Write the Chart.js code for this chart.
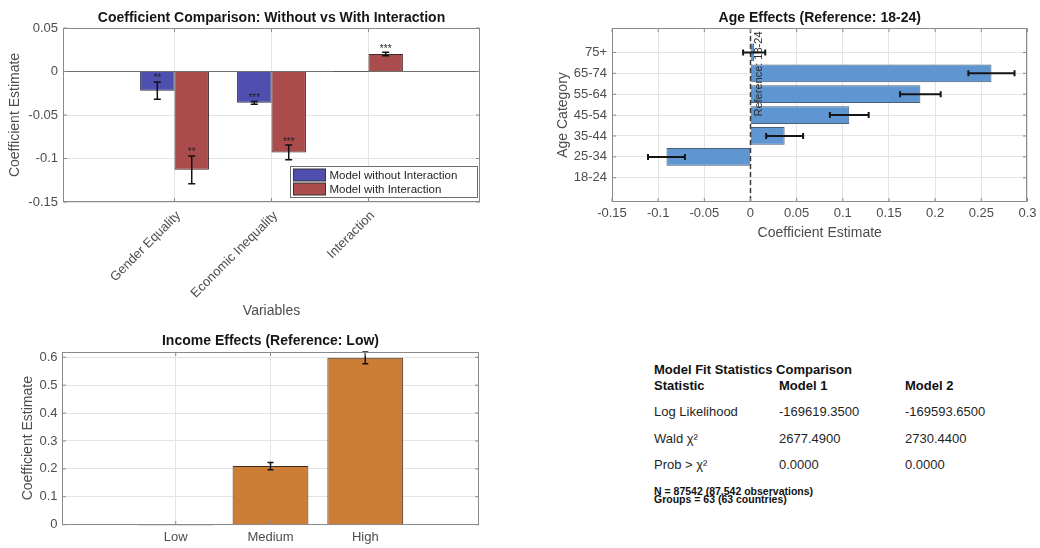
<!DOCTYPE html>
<html>
<head>
<meta charset="utf-8">
<title>Regression results</title>
<script src="https://cdn.jsdelivr.net/npm/chart.js@4.4.1/dist/chart.umd.min.js"></script>
<style>
  html, body { margin: 0; padding: 0; background: #ffffff; }
  #page { position: relative; width: 1040px; height: 548px; overflow: hidden; background: #ffffff;
          font-family: "Liberation Sans", Arial, Helvetica, sans-serif; }
  canvas { position: absolute; }
  .fit { position: absolute; white-space: nowrap; color: #1f1f1f; font-size: 13px; line-height: 16px; }
  .fit.b { font-weight: bold; color: #111; }
  .note { position: absolute; white-space: nowrap; font-weight: bold; color: #111; font-size: 10.5px; line-height: 8px; }
</style>
</head>
<body>
<div id="page">
  <canvas id="coefChart" width="520" height="325" style="left:0;top:0"></canvas>
  <canvas id="ageChart" width="500" height="250" style="left:540px;top:0"></canvas>
  <canvas id="incomeChart" width="520" height="223" style="left:0;top:325px"></canvas>
  <div id="fitTable"></div>
</div>
<script>
// ---------- data ----------
const coefVariables = ['Gender Equality', 'Economic Inequality', 'Interaction'];
const coefWithout   = [-0.022, -0.036, 0];
const seWithout     = [0.010, 0.0015, 0];
const sigWithout    = ['**', '***', ''];
const coefWith      = [-0.113, -0.093, 0.020];
const seWith        = [0.016, 0.0085, 0.002];
const sigWith       = ['**', '***', '***'];

const ageCategories = ['18-24', '25-34', '35-44', '45-54', '55-64', '65-74', '75+'];
const ageCoef       = [0, -0.091, 0.037, 0.107, 0.184, 0.261, 0.004];
const ageSE         = [0, 0.020, 0.020, 0.021, 0.022, 0.025, 0.012];

const incomeCategories = ['Low', 'Medium', 'High'];
const incomeCoef       = [0, 0.210, 0.598];
const incomeSE         = [0, 0.013, 0.021];

const fitStatistics = ['Log Likelihood', 'Wald χ²', 'Prob > χ²'];
const fitModel1     = [-169619.35, 2677.49, 0.0];
const fitModel2     = [-169593.65, 2730.44, 0.0];
const nObservations = 87542;
const nGroups       = 63;

// ---------- shared styling ----------
const FONT = '"Liberation Sans", Arial, Helvetica, sans-serif';
const GRID = '#e4e4e4';
const FRAME = '#8a8a8a';
const TICK = '#4d4d4d';
const TITLE = '#161616';
Chart.defaults.font.family = FONT;
Chart.defaults.color = TICK;
Chart.defaults.animation = false;

// plain numeric tick text: 0.1 rather than 0.10
const numTick = v => String(+Number(v).toFixed(4));

// axes box with small inward tick marks
const framePlugin = {
  id: 'frame',
  afterDraw(chart) {
    const { ctx, chartArea: a } = chart;
    ctx.save();
    ctx.strokeStyle = FRAME;
    ctx.lineWidth = 1;
    const L = Math.round(a.left) + 0.5, R = Math.round(a.right) - 0.5;
    const T = Math.round(a.top) + 0.5, B = Math.round(a.bottom) - 0.5;
    ctx.strokeRect(L, T, R - L, B - T);
    const len = 3.5;
    ctx.beginPath();
    Object.values(chart.scales).forEach(s => {
      s.ticks.forEach((t, i) => {
        const p = s.getPixelForTick(i);
        if (s.isHorizontal()) {
          ctx.moveTo(p, B); ctx.lineTo(p, B - len);
          ctx.moveTo(p, T); ctx.lineTo(p, T + len);
        } else {
          ctx.moveTo(L, p); ctx.lineTo(L + len, p);
          ctx.moveTo(R, p); ctx.lineTo(R - len, p);
        }
      });
    });
    ctx.stroke();
    ctx.restore();
  }
};

// zero-valued bars still show their edge as a flat line
const zeroBarPlugin = {
  id: 'zeroBars',
  afterDatasetsDraw(chart) {
    const { ctx } = chart;
    const horizontal = chart.options.indexAxis === 'y';
    chart.data.datasets.forEach((ds, d) => {
      const meta = chart.getDatasetMeta(d);
      meta.data.forEach((bar, i) => {
        const v = horizontal ? ds.data[i].x : ds.data[i].y;
        if (v !== 0) return;
        const p = bar.getProps(['x', 'y', 'width', 'height', 'base'], true);
        ctx.save();
        ctx.strokeStyle = '#5a5a5a';
        ctx.lineWidth = 1;
        ctx.beginPath();
        if (horizontal) {
          ctx.moveTo(p.base, p.y - p.height / 2); ctx.lineTo(p.base, p.y + p.height / 2);
        } else {
          ctx.moveTo(p.x - p.width / 2, p.base); ctx.lineTo(p.x + p.width / 2, p.base);
        }
        ctx.stroke();
        ctx.restore();
      });
    });
  }
};

// error bars (and optional significance marks) drawn on top of the bars
const errorBarPlugin = {
  id: 'errorBars',
  afterDatasetsDraw(chart, args, opts) {
    if (!opts.sets) return;
    const { ctx } = chart;
    const horizontal = chart.options.indexAxis === 'y';
    const vScale = horizontal ? chart.scales.x : chart.scales.y;
    opts.sets.forEach(set => {
      const meta = chart.getDatasetMeta(set.dataset);
      const ds = chart.data.datasets[set.dataset];
      ctx.save();
      ctx.strokeStyle = opts.color;
      ctx.lineWidth = opts.width;
      meta.data.forEach((bar, i) => {
        const se = set.errors[i];
        const v = horizontal ? ds.data[i].x : ds.data[i].y;
        const c = opts.cap / 2;
        if (se) {
          const lo = vScale.getPixelForValue(v - se);
          const hi = vScale.getPixelForValue(v + se);
          ctx.beginPath();
          if (horizontal) {
            const y = bar.y;
            ctx.moveTo(lo, y); ctx.lineTo(hi, y);
            ctx.moveTo(lo, y - c); ctx.lineTo(lo, y + c);
            ctx.moveTo(hi, y - c); ctx.lineTo(hi, y + c);
          } else {
            const x = bar.x;
            ctx.moveTo(x, lo); ctx.lineTo(x, hi);
            ctx.moveTo(x - c, lo); ctx.lineTo(x + c, lo);
            ctx.moveTo(x - c, hi); ctx.lineTo(x + c, hi);
          }
          ctx.stroke();
        }
        if (set.marks && set.marks[i]) {
          ctx.fillStyle = '#1d1d2b';
          ctx.font = `10px ${FONT}`;
          ctx.textAlign = 'center';
          ctx.textBaseline = 'alphabetic';
          ctx.fillText(set.marks[i], bar.x, vScale.getPixelForValue(v + (se || 0)) - 0.5);
        }
      });
      ctx.restore();
    });
  }
};

// boxed legend in the lower right corner of the plot area
const boxLegendPlugin = {
  id: 'boxLegend',
  afterDraw(chart, args, opts) {
    if (!opts.display) return;
    const { ctx, chartArea: a } = chart;
    const items = chart.data.datasets;
    ctx.save();
    ctx.font = `11.5px ${FONT}`;
    const textW = Math.max(...items.map(d => ctx.measureText(d.label).width));
    const w = Math.round(3 + 32 + 4 + textW + 20), h = 31;
    const x0 = Math.round(a.right - 3 - w) + 0.5, y0 = Math.round(a.bottom - 5 - h) + 0.5;
    ctx.fillStyle = '#ffffff';
    ctx.fillRect(x0, y0, w, h);
    ctx.strokeStyle = '#6e6e6e';
    ctx.lineWidth = 1;
    ctx.strokeRect(x0, y0, w, h);
    items.forEach((d, i) => {
      const cy = y0 + 8.5 + i * 14;
      ctx.fillStyle = d.backgroundColor;
      ctx.fillRect(x0 + 3, cy - 6, 32, 12);
      ctx.strokeStyle = '#333333';
      ctx.strokeRect(x0 + 3, cy - 6, 32, 12);
      ctx.fillStyle = '#262626';
      ctx.textAlign = 'left';
      ctx.textBaseline = 'middle';
      ctx.fillText(d.label, x0 + 39, cy + 0.5);
    });
    ctx.restore();
  }
};

// dashed reference line with a rotated label
const refLinePlugin = {
  id: 'refLine',
  afterDatasetsDraw(chart, args, opts) {
    if (opts.value === undefined) return;
    const { ctx, chartArea: a, scales: { x } } = chart;
    const px = x.getPixelForValue(opts.value);
    ctx.save();
    ctx.strokeStyle = '#3a3a3a';
    ctx.lineWidth = 1.5;
    ctx.setLineDash([5, 3]);
    ctx.beginPath();
    ctx.moveTo(px, a.top);
    ctx.lineTo(px, a.bottom);
    ctx.stroke();
    ctx.setLineDash([]);
    ctx.translate(px + 8.5, a.top + 3.5);
    ctx.rotate(-Math.PI / 2);
    ctx.fillStyle = '#2b2b2b';
    ctx.font = `11px ${FONT}`;
    ctx.textAlign = 'right';
    ctx.textBaseline = 'middle';
    ctx.fillText(opts.text, 0, 0);
    ctx.restore();
  }
};

const titleOpts = (text, top, bottom) => ({
  display: true, text, fullSize: false, color: TITLE,
  font: { size: 14, weight: 'bold' }, padding: { top, bottom }
});
const gridOpts = { color: GRID, drawTicks: false, offset: false };
const tickFont = { size: 13 };

// ---------- coefficient comparison ----------
new Chart(document.getElementById('coefChart'), {
  type: 'bar',
  data: {
    datasets: [
      { label: 'Model without Interaction', data: coefWithout.map((v, i) => ({ x: i + 1, y: v })),
        backgroundColor: '#4f4faf', borderColor: '#2e2e3e', borderWidth: 1 },
      { label: 'Model with Interaction', data: coefWith.map((v, i) => ({ x: i + 1, y: v })),
        backgroundColor: '#ab4c4c', borderColor: '#3a2a2a', borderWidth: 1 }
    ]
  },
  options: {
    responsive: false, devicePixelRatio: 1,
    layout: { padding: { left: 0, right: 40, top: 0, bottom: 0 } },
    categoryPercentage: 0.71, barPercentage: 1.0,
    scales: {
      x: {
        type: 'linear', min: -0.15, max: 4.15, offset: false,
        grid: gridOpts, border: { display: false },
        afterBuildTicks: s => { s.ticks = coefVariables.map((_, i) => ({ value: i + 1 })); },
        ticks: { callback: (v, i) => coefVariables[i], autoSkip: false, minRotation: 45, maxRotation: 45,
                 font: tickFont, color: TICK, padding: 6, labelOffset: 4 },
        title: { display: true, text: 'Variables', font: { size: 14 }, color: TICK, padding: { top: 0, bottom: 5.6 } },
        afterFit: s => { s.height = 123; }
      },
      y: {
        min: -0.15, max: 0.05,
        grid: { ...gridOpts, color: c => (c.tick && c.tick.value === 0 ? '#6f6f6f' : GRID) },
        border: { display: false },
        ticks: { stepSize: 0.05, callback: numTick, font: tickFont, color: TICK, padding: 5 },
        title: { display: true, text: 'Coefficient Estimate', font: { size: 14 }, color: TICK, padding: { top: 6.6, bottom: 0 } },
        afterFit: s => { s.width = 63; }
      }
    },
    plugins: {
      legend: { display: false },
      tooltip: { enabled: false },
      title: titleOpts('Coefficient Comparison: Without vs With Interaction', 9.6, 1.6),
      errorBars: { color: '#111111', width: 1.5, cap: 7,
        sets: [{ dataset: 0, errors: seWithout, marks: sigWithout },
               { dataset: 1, errors: seWith, marks: sigWith }] },
      boxLegend: { display: true }
    }
  },
  plugins: [framePlugin, zeroBarPlugin, errorBarPlugin, boxLegendPlugin]
});

// ---------- age effects ----------
new Chart(document.getElementById('ageChart'), {
  type: 'bar',
  data: {
    datasets: [{ label: 'Age', data: ageCoef.map((v, i) => ({ x: v, y: i + 1 })),
      backgroundColor: '#5f96d1', borderColor: '#4a5d72', borderWidth: 1 }]
  },
  options: {
    indexAxis: 'y',
    responsive: false, devicePixelRatio: 1,
    layout: { padding: { left: 0, right: 11, top: 0, bottom: 0 } },
    categoryPercentage: 0.85, barPercentage: 1.0,
    scales: {
      x: {
        type: 'linear', min: -0.15, max: 0.3,
        grid: gridOpts, border: { display: false },
        ticks: { stepSize: 0.05, callback: numTick, font: tickFont, color: TICK, padding: 3.5, maxRotation: 0 },
        title: { display: true, text: 'Coefficient Estimate', font: { size: 14 }, color: TICK, padding: { top: 0, bottom: 8.6 } },
        afterFit: s => { s.height = 48; }
      },
      y: {
        type: 'linear', min: -0.16, max: 8.17, offset: false,
        grid: gridOpts, border: { display: false },
        afterBuildTicks: s => { s.ticks = ageCategories.map((_, i) => ({ value: i + 1 })); },
        ticks: { callback: (v, i) => ageCategories[i], autoSkip: false, font: tickFont, color: TICK, padding: 5 },
        title: { display: true, text: 'Age Category', font: { size: 14 }, color: TICK, padding: { top: 14.9, bottom: 0 } },
        afterFit: s => { s.width = 72; }
      }
    },
    plugins: {
      legend: { display: false },
      tooltip: { enabled: false },
      title: titleOpts('Age Effects (Reference: 18-24)', 9.6, 1.6),
      errorBars: { color: '#151515', width: 2, cap: 6, sets: [{ dataset: 0, errors: ageSE }] },
      refLine: { value: 0, text: 'Reference: ' + ageCategories[0] }
    }
  },
  plugins: [framePlugin, refLinePlugin, errorBarPlugin]
});

// ---------- income effects ----------
new Chart(document.getElementById('incomeChart'), {
  type: 'bar',
  data: {
    datasets: [{ label: 'Income', data: incomeCoef.map((v, i) => ({ x: i + 1, y: v })),
      backgroundColor: '#cc7d36', borderColor: '#3c2c20', borderWidth: 1 }]
  },
  options: {
    responsive: false, devicePixelRatio: 1,
    layout: { padding: { left: 0, right: 41, top: 0, bottom: 0 } },
    categoryPercentage: 0.8, barPercentage: 1.0,
    scales: {
      x: {
        type: 'linear', min: -0.2, max: 4.2, offset: false,
        grid: gridOpts, border: { display: false },
        afterBuildTicks: s => { s.ticks = incomeCategories.map((_, i) => ({ value: i + 1 })); },
        ticks: { callback: (v, i) => incomeCategories[i], autoSkip: false, maxRotation: 0,
                 font: tickFont, color: TICK, padding: 5 },
        afterFit: s => { s.height = 23.3; }
      },
      y: {
        min: 0, max: 0.62,
        grid: gridOpts, border: { display: false },
        ticks: { stepSize: 0.1, includeBounds: false, callback: numTick, font: tickFont, color: TICK, padding: 4.5 },
        title: { display: true, text: 'Coefficient Estimate', font: { size: 14 }, color: TICK, padding: { top: 19.9, bottom: 0 } },
        afterFit: s => { s.width = 62; }
      }
    },
    plugins: {
      legend: { display: false },
      tooltip: { enabled: false },
      title: titleOpts('Income Effects (Reference: Low)', 7.3, 2.6),
      errorBars: { color: '#151515', width: 1.5, cap: 6, sets: [{ dataset: 0, errors: incomeSE }] }
    }
  },
  plugins: [framePlugin, zeroBarPlugin, errorBarPlugin]
});

// ---------- model fit statistics ----------
(function buildFitTable() {
  const host = document.getElementById('fitTable');
  const cols = [654, 779, 905];
  const put = (text, x, cy, cls) => {
    const d = document.createElement('div');
    d.className = cls;
    d.textContent = text;
    d.style.left = x + 'px';
    d.style.top = (cy - 8) + 'px';
    host.appendChild(d);
  };
  put('Model Fit Statistics Comparison', cols[0], 369.5, 'fit b');
  ['Statistic', 'Model 1', 'Model 2'].forEach((h, j) => put(h, cols[j], 386, 'fit b'));
  const rowY = [412.3, 438.5, 465];
  fitStatistics.forEach((name, i) => {
    put(name, cols[0], rowY[i], 'fit');
    put(fitModel1[i].toFixed(4), cols[1], rowY[i], 'fit');
    put(fitModel2[i].toFixed(4), cols[2], rowY[i], 'fit');
  });
  const notes = [
    `N = ${nObservations} (${nObservations.toLocaleString('en-US')} observations)`,
    `Groups = ${nGroups} (${nGroups} countries)`
  ];
  notes.forEach((t, i) => {
    const d = document.createElement('div');
    d.className = 'note';
    d.textContent = t;
    d.style.left = cols[0] + 'px';
    d.style.top = (490.7 + i * 7.8 - 4) + 'px';
    host.appendChild(d);
  });
})();
</script>
</body>
</html>
